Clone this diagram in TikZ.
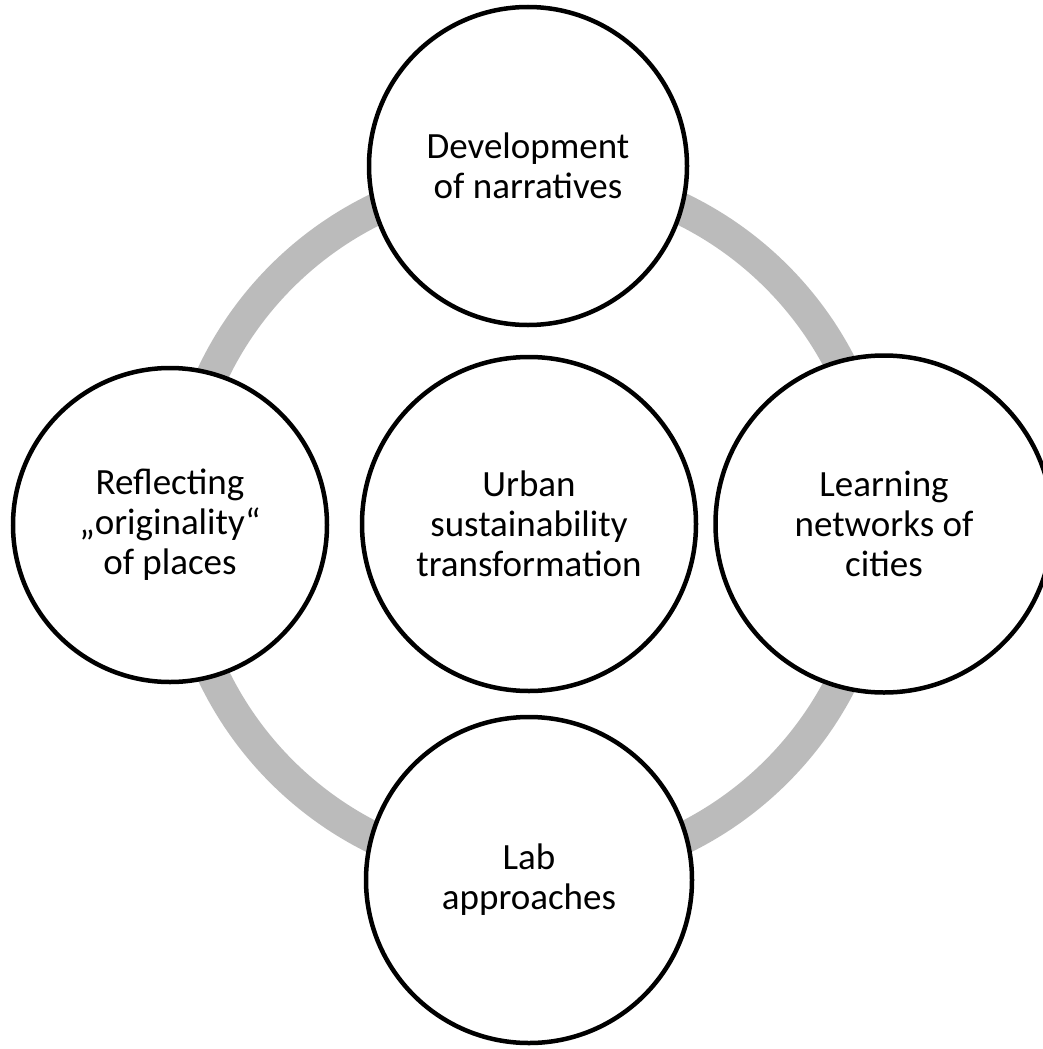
\documentclass[tikz,border=0pt]{standalone}
\usepackage{fontspec}
\setmainfont{Carlito}
\definecolor{ringgray}{RGB}{187,187,187}
\tikzset{
  bubble/.style={circle, draw=black, line width=4.5pt, fill=white, inner sep=0pt,
    align=center, font=\fontsize{37}{40}\selectfont},
  ring/.style={draw=ringgray, line width=32pt}
}
\begin{document}
\begin{tikzpicture}[x=1pt,y=-1pt]
\useasboundingbox (0,0) rectangle (1043,1049);
\clip (0,0) rectangle (1043,1049);
\coordinate (hub) at (529,524);
\draw[ring] (hub) circle[radius=350];
\node[bubble, minimum size=318] (top) at (528,166) {Development\\of narratives};
\node[bubble, minimum size=314] (left) at (170,525) {Reflecting\\„originality“\\of places};
\node[bubble, minimum size=337] (right) at (884,524) {Learning\\networks of\\cities};
\node[bubble, minimum size=326] (bottom) at (529,880) {Lab\\approaches};
\node[bubble, minimum size=334] (mid) at (529,524) {Urban\\sustainability\\transformation};
\end{tikzpicture}
\end{document}
